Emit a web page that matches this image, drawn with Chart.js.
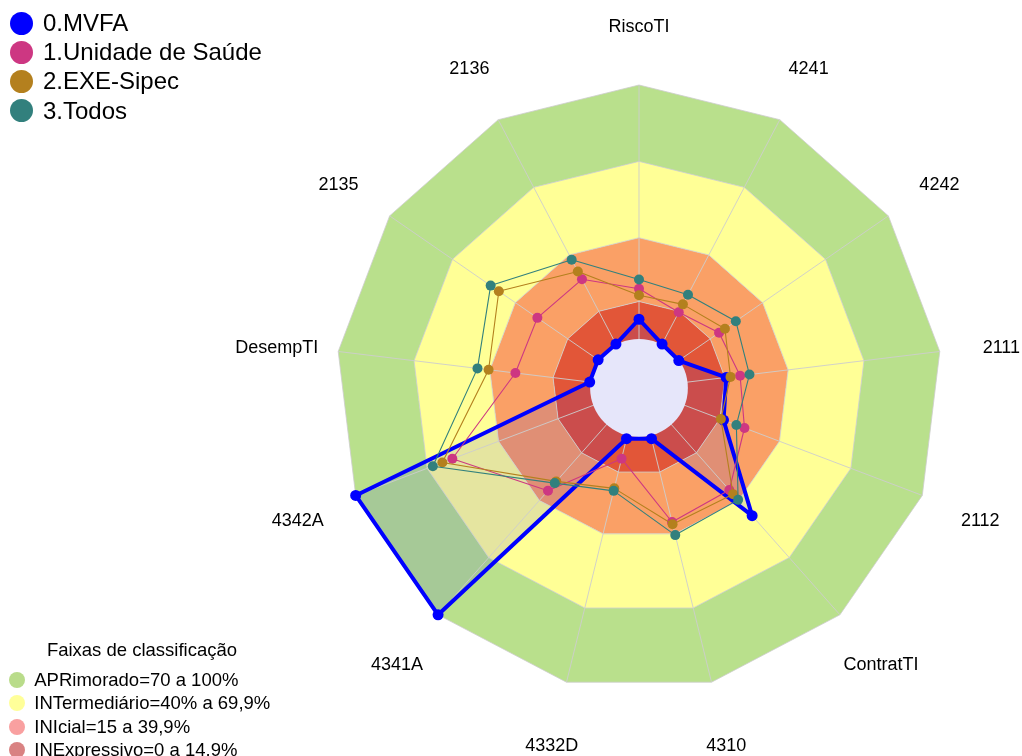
<!DOCTYPE html>
<html>
<head>
<meta charset="utf-8">
<title>Radar - Faixas de classificação</title>
<script src="https://cdn.jsdelivr.net/npm/chart.js@4.4.0/dist/chart.umd.min.js"></script>
<style>
  html, body { margin: 0; padding: 0; background: #fff; }
  body { width: 1022px; height: 756px; overflow: hidden; position: relative;
         font-family: "Liberation Sans", Arial, sans-serif; color: #000; }
  #wrap { position: absolute; left: 0; top: 0; width: 1022px; height: 756px; }
  .item { position: absolute; display: flex; align-items: center; white-space: nowrap; }
  .dot { border-radius: 50%; flex: none; }
  .top .item { left: 9.5px; height: 28px; line-height: 28px; font-size: 24px; }
  .top .dot { width: 23px; height: 23px; margin-right: 10.5px; }
  .bot .item { left: 8.7px; height: 22px; line-height: 22px; font-size: 18.5px; }
  .bot .dot { width: 16px; height: 16px; margin-right: 9.6px; }
  #bandTitle { position: absolute; left: 0; width: 284px; text-align: center; top: 639px;
               font-size: 18.5px; line-height: 22px; }
</style>
</head>
<body>
<div id="wrap"><canvas id="radar" width="1022" height="756"></canvas></div>
<div class="top" id="seriesLegend"></div>
<div class="bot" id="bandLegend"><div id="bandTitle">Faixas de classificação</div></div>

<script>
/* ================= DATA ================= */
const LABELS = ["RiscoTI", "4241", "4242", "2111", "2112", "ContratTI", "4310",
                "4332D", "4341A", "4342A", "DesempTI", "2135", "2136"];

const SERIES_NAMES = ["0.MVFA", "1.Unidade de Saúde", "2.EXE-Sipec", "3.Todos"];
const MVFA    = [8, 0.5, 0, 15.5, 16.5, 48, 1.5, 1.5, 100, 100, 0.5, 0.5, 0.5];
const UNIDADE = [20, 14.6, 19.2, 21, 25.3, 34.5, 35.2, 9.6, 34.9, 59.4, 29.9, 29.5, 29.2];
const EXE     = [17.4, 18.1, 22, 17.2, 15.4, 36.7, 36.1, 21.6, 30, 63.6, 40.5, 47.9, 32.7];
const TODOS   = [23.6, 22.4, 27.2, 24.7, 21.9, 39.7, 40.5, 22.6, 30.9, 67.6, 44.9, 51.8, 37.9];

const BAND_NAMES  = ["APRimorado=70 a 100%", "INTermediário=40% a 69,9%",
                     "INIcial=15 a 39,9%", "INExpressivo=0 a 14.9%"];
const BAND_TOP    = [100, 70, 40, 15];
const BAND_BOTTOM = [70, 40, 15, 0];

/* ================= STYLE ================= */
const SERIES_COLORS = ["#0000ff", "#cd3782", "#b4801e", "#32807d"];
const BAND_FILLS    = ["#b9e08c", "#ffff96", "#faa066", "#e25638"];
const BAND_DOTS     = ["#b9dc8a", "#ffff99", "#f9a0a0", "#d98282"];
const HOLE_VALUE = 0;
const SCALE_MIN = -19;

/* ================= LEGENDS (html) ================= */
function buildLegends() {
  const top = document.getElementById("seriesLegend");
  SERIES_NAMES.forEach((name, i) => {
    const el = document.createElement("div");
    el.className = "item";
    el.style.top = (23 + 29.2 * i - 14) + "px";
    el.innerHTML = `<span class="dot" style="background:${SERIES_COLORS[i]}"></span><span>${name}</span>`;
    top.appendChild(el);
  });

  const bot = document.getElementById("bandLegend");
  BAND_NAMES.forEach((name, i) => {
    const el = document.createElement("div");
    el.className = "item";
    el.style.top = (680 + 23.3 * i - 11) + "px";
    el.innerHTML = `<span class="dot" style="background:${BAND_DOTS[i]}"></span><span>${name}</span>`;
    bot.appendChild(el);
  });
}

/* ================= PLUGIN: hole + axis labels ================= */
const radarDecor = {
  id: "radarDecor",
  beforeDatasetsDraw(chart) {
    const r = chart.scales.r;
    const ctx = chart.ctx;
    ctx.save();
    ctx.fillStyle = "rgb(230,230,250)";
    ctx.beginPath();
    ctx.arc(r.xCenter, r.yCenter, r.getDistanceFromCenterForValue(HOLE_VALUE) + 0.5, 0, Math.PI * 2);
    ctx.fill();
    ctx.restore();
  },
  afterDraw(chart) {
    const r = chart.scales.r;
    const ctx = chart.ctx;
    ctx.save();
    ctx.font = '18px "Liberation Sans", Arial, sans-serif';
    ctx.fillStyle = "#000";
    ctx.textAlign = "center";
    ctx.textBaseline = "middle";
    LABELS.forEach((lab, i) => {
      const p = r.getPointPosition(i, r.drawingArea + 62);
      ctx.fillText(lab, p.x, p.y + 4);
    });
    ctx.restore();
  }
};

/* ================= CHART ================= */
function seriesDataset(name, data, i) {
  const isMain = i === 0;
  return {
    label: name,
    data,
    order: 4 - i,
    borderColor: SERIES_COLORS[i],
    backgroundColor: isMain ? "rgba(0,0,255,0.1)" : "transparent",
    fill: isMain ? "start" : false,
    borderWidth: isMain ? 4 : 1.1,
    borderJoinStyle: "round",
    pointRadius: isMain ? 5.5 : 5,
    pointBorderWidth: 0,
    pointBackgroundColor: SERIES_COLORS[i],
    pointBorderColor: SERIES_COLORS[i]
  };
}

function bandDataset(i) {
  return {
    label: BAND_NAMES[i],
    data: LABELS.map(() => BAND_TOP[i]),
    order: 10 + i,
    borderWidth: 0,
    borderColor: "transparent",
    backgroundColor: BAND_FILLS[i],
    fill: { value: BAND_BOTTOM[i] },
    pointRadius: 0
  };
}

buildLegends();

new Chart(document.getElementById("radar"), {
  type: "radar",
  data: {
    labels: LABELS,
    datasets: [
      seriesDataset(SERIES_NAMES[0], MVFA, 0),
      seriesDataset(SERIES_NAMES[1], UNIDADE, 1),
      seriesDataset(SERIES_NAMES[2], EXE, 2),
      seriesDataset(SERIES_NAMES[3], TODOS, 3),
      ...BAND_NAMES.map((_, i) => bandDataset(i))
    ]
  },
  options: {
    responsive: false,
    animation: false,
    events: [],
    layout: { padding: { left: 336, right: 80, top: 85, bottom: 65 } },
    elements: { line: { tension: 0 } },
    plugins: {
      legend: { display: false },
      tooltip: { enabled: false },
      filler: { drawTime: "beforeDraw" }
    },
    scales: {
      r: {
        min: SCALE_MIN,
        max: 100,
        startAngle: 0,
        ticks: { display: false },
        afterBuildTicks: s => { s.ticks = BAND_TOP.slice().reverse().map(v => ({ value: v })); },
        grid: { color: "rgba(205,205,205,0.8)", lineWidth: 1 },
        angleLines: { color: "rgba(205,205,205,0.9)", lineWidth: 1 },
        pointLabels: { display: false }
      }
    }
  },
  plugins: [radarDecor]
});
</script>
</body>
</html>
